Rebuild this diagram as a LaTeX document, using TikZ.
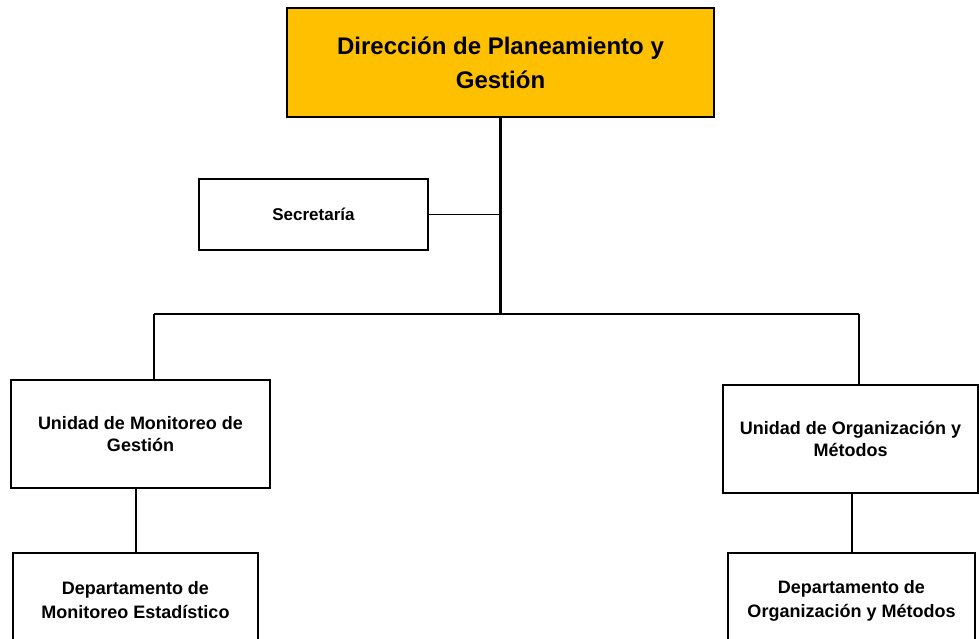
\documentclass[tikz,border=0pt]{standalone}
\usepackage{fontspec}
\setmainfont{Liberation Sans}
\definecolor{gold}{HTML}{FFC000}
\begin{document}
\begin{tikzpicture}[x=1pt,y=-1pt,
  box/.style={draw=black,line width=2pt,fill=white,inner sep=0pt,align=center,font=\bfseries\fontsize{18}{22}\selectfont},
  thin/.style={line width=1.5pt},
  thick/.style={line width=3.5pt}]
\useasboundingbox (0,0) rectangle (979,638);
\clip (0,0) rectangle (979,638);
\fill[white] (0,0) rectangle (979,638);
\node[box,fill=gold,minimum width=427pt,minimum height=109pt,font=\bfseries\fontsize{24}{34}\selectfont] (dir) at (500.5,62.5) {Dirección de Planeamiento y\\Gestión};
\node[box,minimum width=229pt,minimum height=71pt,font=\bfseries\fontsize{17}{20}\selectfont] (sec) at (313.5,214.5) {Secretaría};
\node[box,minimum width=259pt,minimum height=108pt] (uL) at (140.5,434) {Unidad de Monitoreo de\\Gestión};
\node[box,minimum width=255pt,minimum height=108pt] (uR) at (850.5,439) {Unidad de Organización y\\Métodos};
\node[box,minimum width=245pt,minimum height=95pt,font=\bfseries\fontsize{18}{24}\selectfont] (dL) at (135.5,600.5) {Departamento de\\Monitoreo Estadístico};
\node[box,minimum width=247pt,minimum height=95pt,font=\bfseries\fontsize{18}{24}\selectfont] (dR) at (851.5,600.5) {Departamento de\\Organización y Métodos};
\coordinate (J) at (500.5,315);
\coordinate (hL) at (154,314);
\coordinate (hR) at (859,314);
\coordinate (sJ) at (500.5,214.5);
\draw[thick] (dir.south) -- (J);
\draw[thin] (sec.east) -- (sJ);
\draw[thin] (hL) -- (hR);
\draw[thin] (hL) -- (hL |- uL.north);
\draw[thin] (hR) -- (hR |- uR.north);
\coordinate (vL) at (136,488);
\coordinate (vR) at (852,493);
\draw[thin] (vL |- uL.south) -- (vL |- dL.north);
\draw[thin] (vR |- uR.south) -- (vR |- dR.north);
\end{tikzpicture}
\end{document}
